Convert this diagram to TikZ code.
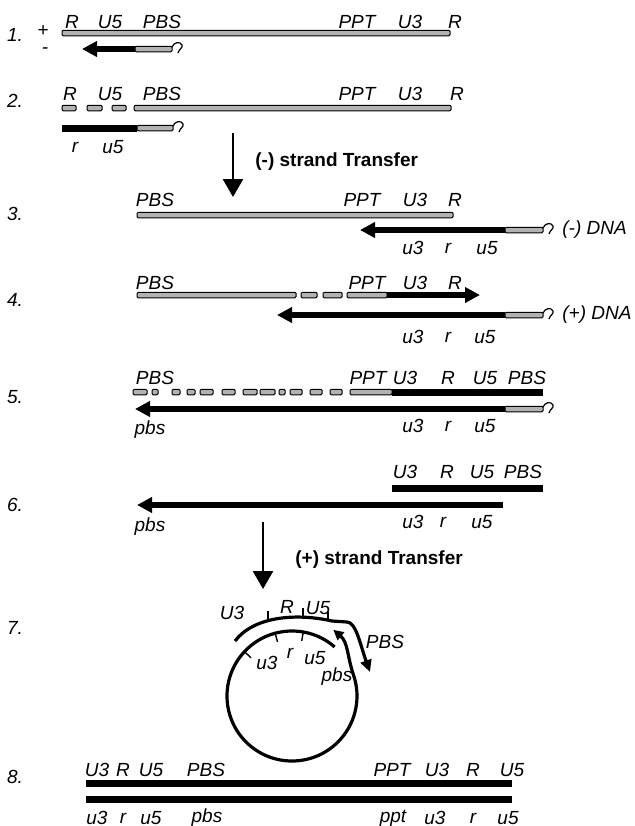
\documentclass[tikz,border=0pt]{standalone}
\usepackage{fontspec}
\setsansfont{Liberation Sans}
\usetikzlibrary{arrows.meta}
\tikzset{
  rna/.style   = {draw, fill=black!30, line width=0.5pt, rounded corners=0.6pt},
  dna/.style   = {line width=3.4pt, -{Triangle[length=7.5pt,width=7.5pt]}},
  xfer/.style  = {line width=1.3pt, -{Triangle[length=9pt,width=10pt]}},
  lbl/.style   = {font=\sffamily\itshape\fontsize{9.5}{11}\selectfont, inner sep=1pt},
  sgn/.style   = {font=\sffamily\itshape\fontsize{9.5}{11}\selectfont, inner sep=0pt},
  ttl/.style   = {font=\sffamily\bfseries\fontsize{9.5}{11}\selectfont, anchor=west,
                  inner sep=1pt},
  loopw/.style = {line width=1.6pt},
  tk/.style    = {line width=0.7pt},
  trna/.pic    = {\draw[line width=0.6pt] (0,-2) .. controls (2,-7) and (8,-8) .. (10,-4)
                  .. controls (11,-1) and (7,0) .. (6,4);},
}
\begin{document}
\begin{tikzpicture}[x=0.5pt,y=-0.5pt]
  \useasboundingbox (0,0) rectangle (635,826);
  % row numbers
  \foreach \n/\y in {1/35,2/101,3/214,4/300,5/397,6/505,7/628,8/777}
    \node[lbl] (n\n) at (15,\y) {\n.};

  % step 1: RNA genome, (-) strand strong stop
  \node[sgn] (plus) at (43,31) {+};
  \node[sgn] (minus) at (45,51) {-};
  \foreach \t/\x [count=\i] in {R/72,U5/110,PBS/162,PPT/357,U3/410,R/455}
    \node[lbl] (a\i) at (\x,22) {\t};
  \draw[rna] (62,30.25) rectangle (450,35.75);
  \draw[dna] (135,49) -- (82,49);
  \draw[rna] (135,46.25) rectangle (172,51.75);
  \pic at (172,49) {trna};

  % step 2: RNase H
  \foreach \t/\x [count=\i] in {R/70,U5/110,PBS/162,PPT/357,U3/410,R/457}
    \node[lbl] (b\i) at (\x,94) {\t};
  \foreach \xa/\xb in {62/76,87/102,112/126}
    \draw[rna] (\xa,105.25) rectangle (\xb,110.75);
  \draw[rna] (134,105.25) rectangle (451,110.75);
  \fill (62,124.5) rectangle (137,131.5);
  \draw[rna] (137,125.25) rectangle (173,130.75);
  \pic at (173,128) {trna};
  \node[lbl] (b7) at (75,147) {r};
  \node[lbl] (b8) at (113,147) {u5};

  \coordinate (t1a) at (233,133);
  \coordinate (t1b) at (233,197);
  \draw[xfer] (t1a) -- (t1b);
  \node[ttl] (t1) at (253,162) {(-) strand Transfer};

  % step 3
  \foreach \t/\x [count=\i] in {PBS/155,PPT/362,U3/415,R/455}
    \node[lbl] (c\i) at (\x,200) {\t};
  \draw[rna] (137,212.25) rectangle (453,217.75);
  \draw[dna] (505,230) -- (360,230);
  \draw[rna] (505,227.25) rectangle (543,232.75);
  \pic at (543,230) {trna};
  \node[lbl,anchor=west] (c5) at (560,230) {(-) DNA};
  \foreach \t/\x [count=\i from 6] in {u3/413,r/448,u5/487}
    \node[lbl] (c\i) at (\x,248) {\t};

  % step 4
  \foreach \t/\x [count=\i] in {PBS/155,PPT/367,U3/415,R/455}
    \node[lbl] (d\i) at (\x,283) {\t};
  \draw[rna] (137,292.25) rectangle (296,297.75);
  \foreach \xa/\xb in {301/317,323/342,347/387}
    \draw[rna] (\xa,292.25) rectangle (\xb,297.75);
  \draw[dna] (387,295) -- (480,295);
  \draw[dna] (505,315) -- (277,315);
  \draw[rna] (505,312.25) rectangle (543,317.75);
  \pic at (543,315) {trna};
  \node[lbl,anchor=west] (d5) at (560,315) {(+) DNA};
  \foreach \t/\x [count=\i from 6] in {u3/413,r/448,u5/485}
    \node[lbl] (d\i) at (\x,337) {\t};

  % step 5
  \node[lbl] (e0) at (155,378) {PBS};
  \foreach \t/\x [count=\i] in {PPT/368,U3/405,R/448,U5/485,PBS/527}
    \node[lbl] (e\i) at (\x,378) {\t};
  \foreach \xa/\xb in {133/147,152/158,172/180,187/195,200/213,222/235,243/257,
                       260/275,279/285,290/302,310/322,330/342,350/392}
    \draw[rna] (\xa,389.25) rectangle (\xb,394.75);
  \fill (392,388.5) rectangle (543,395.5);
  \draw[dna] (505,409) -- (135,409);
  \draw[rna] (505,406.25) rectangle (543,411.75);
  \pic at (543,409) {trna};
  \node[lbl] (e6) at (150,430) {pbs};
  \foreach \t/\x [count=\i from 7] in {u3/413,r/448,u5/485}
    \node[lbl] (e\i) at (\x,426) {\t};

  % step 6
  \foreach \t/\x [count=\i] in {U3/405,R/447,U5/482,PBS/523}
    \node[lbl] (f\i) at (\x,472) {\t};
  \fill (392,484.5) rectangle (543,491.5);
  \draw[dna] (503,505) -- (137,505);
  \node[lbl] (f5) at (150,527) {pbs};
  \foreach \t/\x [count=\i from 6] in {u3/413,r/443,u5/482}
    \node[lbl] (f\i) at (\x,522) {\t};

  \coordinate (t2a) at (263,522);
  \coordinate (t2b) at (263,589);
  \draw[xfer] (t2a) -- (t2b);
  \node[ttl] (t2) at (293,560) {(+) strand Transfer};

  % step 7: circle
  \begin{scope}[shift={(292,696)},y=0.5pt]
    \draw[loopw,-{Triangle[length=5pt,width=5pt]}] (49:65)
      arc[start angle=49,end angle=379,radius=65] to[out=109,in=-40] (58:78);
    \draw[loopw,-{Triangle[length=6pt,width=5.5pt]}] (-57,55)
      .. controls (-38,80) and (5,83) .. (40,75) -- (55,74)
      .. controls (64,74) and (68,52) .. (78,24);
    \foreach \x/\ya in {-24/76,11/79,36/75}
      \draw[tk] (\x,\ya) -- (\x,\ya+9);
    \foreach \a in {137,105,80}
      \draw[tk] (\a:65) -- (\a:56);
  \end{scope}
  \foreach \t/\x/\y [count=\i] in {U3/232/613,R/287/607,U5/318/608,u3/267/663,
                                  r/290/653,u5/315/658,pbs/337/677,PBS/385/642}
    \node[lbl] (g\i) at (\x,\y) {\t};

  % step 8
  \foreach \t/\x [count=\i] in {U3/97,R/123,U5/151,PBS/206,PPT/392,U3/437,R/473,U5/512}
    \node[lbl] (h\i) at (\x,770) {\t};
  \fill (86,779.5) rectangle (512,786.5);
  \fill (86,795.5) rectangle (512,802.5);
  \foreach \t/\x [count=\i from 9] in {u3/97,r/123,u5/151,pbs/207,ppt/393,u3/435,r/473,u5/508}
    \node[lbl] (h\i) at (\x,818) {\t};
\end{tikzpicture}
\end{document}
